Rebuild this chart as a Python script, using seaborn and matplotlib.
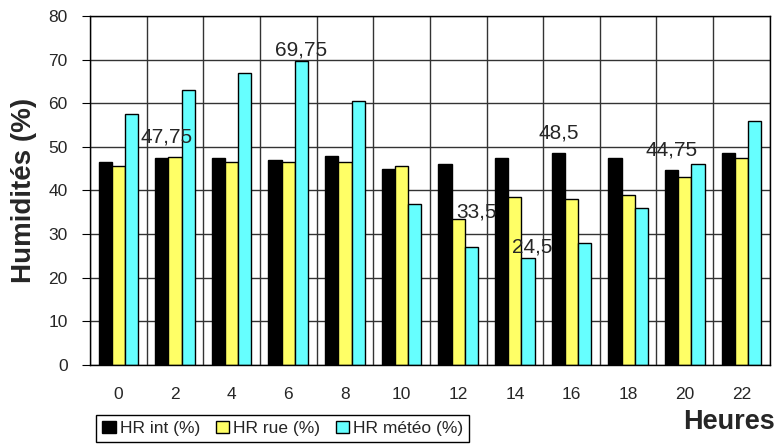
import pandas as pd
import numpy as np

import matplotlib
matplotlib.use("Agg")
import matplotlib.pyplot as plt
import seaborn as sns
from matplotlib.patches import Patch

# data
heures = [0, 2, 4, 6, 8, 10, 12, 14, 16, 18, 20, 22]
hr_int = [46.5, 47.5, 47.5, 47, 48, 45, 46, 47.5, 48.5, 47.5, 44.75, 48.5]
hr_rue = [45.5, 47.75, 46.5, 46.5, 46.5, 45.5, 33.5, 38.5, 38, 39, 43, 47.5]
hr_meteo = [57.5, 63, 67, 69.75, 60.5, 37, 27, 24.5, 28, 36, 46, 56]
series = ["HR int (%)", "HR rue (%)", "HR météo (%)"]
colors = ["#000000", "#FFFF66", "#66FFFF"]

# labelled bars: (hour, series)
labelled = [(2, "HR rue (%)"), (6, "HR météo (%)"), (12, "HR rue (%)"),
            (14, "HR météo (%)"), (16, "HR int (%)"), (20, "HR int (%)")]
label_offsets = [(-6, 14), (0, 8), (13, 5), (3, 8), (0, 14.5), (0, 14.5)]

df = pd.DataFrame({"Heures": heures * 3,
                   "valeur": hr_int + hr_rue + hr_meteo,
                   "serie": [s for s in series for _ in heures]})

sns.set_style("white")
plt.rcParams["font.family"] = ["Liberation Sans", "DejaVu Sans"]

fig = plt.figure(figsize=(7.76, 4.44), dpi=100)
ax = fig.add_axes([0.116, 0.178, 0.876, 0.786])

sns.barplot(data=df, x="Heures", y="valeur", hue="serie", hue_order=series,
            palette=colors, width=0.7, edgecolor="black", linewidth=1,
            saturation=1, ax=ax, legend=False)

ax.set_ylim(0, 80)
ax.set_yticks(np.arange(0, 81, 10))
ax.set_xlim(-0.5, len(heures) - 0.5)
ax.set_xticks(np.arange(-0.5, len(heures), 1), minor=True)
ax.grid(True, axis="y", which="major", color="#333333", linewidth=1)
ax.grid(True, axis="x", which="minor", color="#333333", linewidth=1)
ax.set_axisbelow(True)
ax.tick_params(axis="x", which="major", length=0, labelsize=12.5, pad=16)
ax.tick_params(axis="x", which="minor", length=5, direction="out", color="black")
ax.tick_params(axis="y", length=6, direction="out", labelsize=12.5, left=True,
               color="black", pad=10)
for sp in ax.spines.values():
    sp.set_color("black")
    sp.set_linewidth(1)

ax.set_xlabel("")
ax.set_ylabel("Humidités (%)", fontsize=20, fontweight="bold", labelpad=8)
fig.text(0.998, 0.05, "Heures", ha="right", va="center", fontsize=19.5, fontweight="bold")

# value labels
for (h, s), (dx, dy) in zip(labelled, label_offsets):
    bar = ax.containers[series.index(s)][heures.index(h)]
    x = bar.get_x() + bar.get_width() / 2
    val = bar.get_height()
    txt = ("%g" % val).replace(".", ",")
    ax.annotate(txt, (x, val), xytext=(dx, dy), textcoords="offset points",
                ha="center", va="center", fontsize=15)

handles = [Patch(facecolor=c, edgecolor="black", label=s) for c, s in zip(colors, series)]
fig.legend(handles=handles, loc="lower left", bbox_to_anchor=(0.122, 0.0), ncol=3,
           frameon=True, fancybox=False, edgecolor="black", fontsize=12.5,
           handlelength=0.75, handleheight=0.75, handletextpad=0.25, columnspacing=0.9,
           borderpad=0.35, borderaxespad=0.1, framealpha=1)

plt.savefig("out.png", dpi=100)
